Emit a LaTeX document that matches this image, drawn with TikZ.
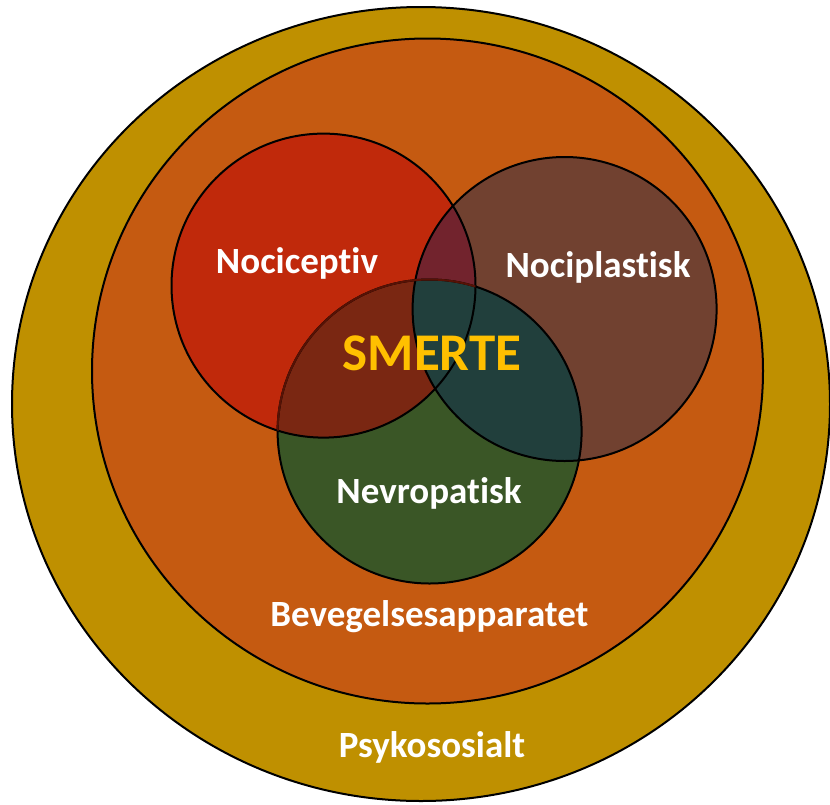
\documentclass[tikz,border=0pt]{standalone}
\usepackage{fontspec}
\setmainfont{Carlito}[Ligatures={NoCommon}]
\usepackage{tikz}

\definecolor{psykogold}{HTML}{BF9000}
\definecolor{bevorange}{HTML}{C55A11}
\definecolor{nocired}{HTML}{C0290B}
\definecolor{plastbrown}{HTML}{714130}
\definecolor{nevrogreen}{HTML}{3A5626}
\definecolor{redbrown}{HTML}{72232D}
\definecolor{redgreen}{HTML}{7A2712}
\definecolor{browngreen}{HTML}{213F3C}
\definecolor{allthree}{HTML}{472433}
\definecolor{smertegold}{HTML}{FFC000}

\begin{document}
\begin{tikzpicture}[x=1pt,y=-1pt,
  rim/.style={draw=black,line width=2pt},
  lbl/.style={text=white,font=\bfseries\fontsize{37}{44}\selectfont,anchor=base,inner sep=0pt}]
\useasboundingbox (0,0) rectangle (830,804);

% outer layers
\filldraw[rim,fill=psykogold] (421,404) ellipse [x radius=409pt,y radius=397pt];
\filldraw[rim,fill=bevorange] (427.5,371) ellipse [x radius=335.5pt,y radius=332.5pt];

% the three pain circles
\coordinate (noci) at (323.5,285.6);
\coordinate (plast) at (564.6,309);
\coordinate (nevro) at (429.6,431.5);
\fill[nocired] (noci) circle [radius=152pt];
\fill[plastbrown] (plast) circle [radius=152pt];
\fill[nevrogreen] (nevro) circle [radius=152pt];

% overlaps
\begin{scope}
  \clip (noci) circle [radius=152pt];
  \fill[redbrown] (plast) circle [radius=152pt];
  \fill[redgreen] (nevro) circle [radius=152pt];
  \clip (plast) circle [radius=152pt];
  \fill[allthree] (nevro) circle [radius=152pt];
\end{scope}
\begin{scope}
  \clip (plast) circle [radius=152pt];
  \fill[browngreen] (nevro) circle [radius=152pt];
\end{scope}

% outlines
\draw[rim] (noci) circle [radius=152pt];
\draw[rim] (plast) circle [radius=152pt];
\draw[rim] (nevro) circle [radius=152pt];
\begin{scope}
  \clip (noci) circle [radius=152pt];
  \draw[line width=2pt,draw=black!55!nocired] (nevro) circle [radius=152pt];
\end{scope}

% labels
\node[lbl] (nociceptiv) at (297,273) {Nociceptiv};
\node[lbl] (nociplastisk) at (598,277) {Nociplastisk};
\node[lbl,text=smertegold,font=\bfseries\fontsize{53}{60}\selectfont] (smerte) at (432,370) {SMERTE};
\node[lbl] (nevropatisk) at (429,503) {Nevropatisk};
\node[lbl] (bevegelse) at (429.5,626) {Bevegelsesapparatet};
\node[lbl] (psyko) at (432,757) {Psykososialt};
\end{tikzpicture}
\end{document}
